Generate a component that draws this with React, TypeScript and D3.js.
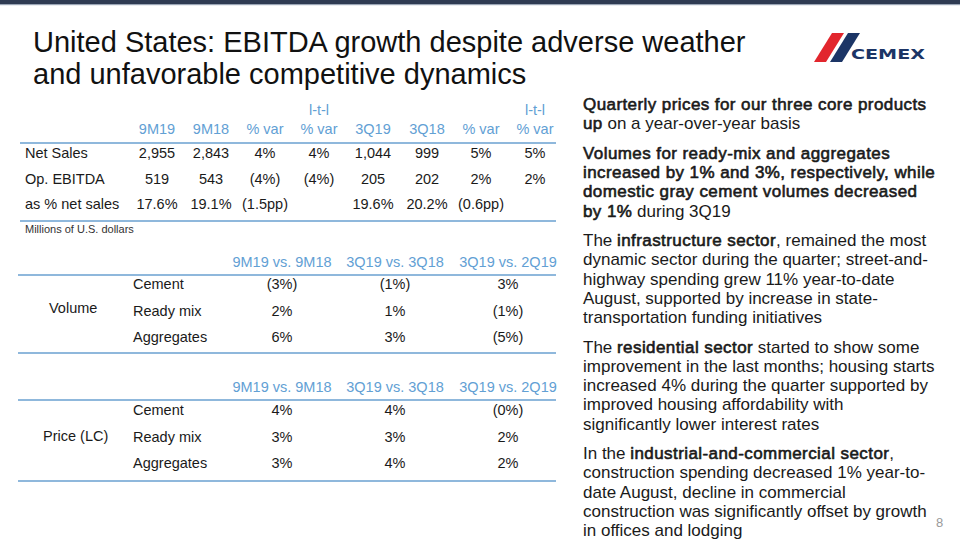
import React from "react";
import * as d3 from "d3";

// ---------- DATA ----------
const titleLines = [
  "United States: EBITDA growth despite adverse weather",
  "and unfavorable competitive dynamics",
];

const summaryTop = ["", "", "", "l-t-l", "", "", "", "l-t-l"];
const summaryCols = ["9M19", "9M18", "% var", "% var", "3Q19", "3Q18", "% var", "% var"];
const summaryRows = ["Net Sales", "Op. EBITDA", "as % net sales"];
const netSales = ["2,955", "2,843", "4%", "4%", "1,044", "999", "5%", "5%"];
const opEbitda = ["519", "543", "(4%)", "(4%)", "205", "202", "2%", "2%"];
const ebitdaMargin = ["17.6%", "19.1%", "(1.5pp)", "", "19.6%", "20.2%", "(0.6pp)", ""];
const summaryNote = "Millions of U.S. dollars";

const compareCols = ["9M19 vs. 9M18", "3Q19 vs. 3Q18", "3Q19 vs. 2Q19"];
const products = ["Cement", "Ready mix", "Aggregates"];
const volumeCement = ["(3%)", "(1%)", "3%"];
const volumeReadyMix = ["2%", "1%", "(1%)"];
const volumeAggregates = ["6%", "3%", "(5%)"];
const priceCement = ["4%", "4%", "(0%)"];
const priceReadyMix = ["3%", "3%", "2%"];
const priceAggregates = ["3%", "4%", "2%"];

type Seg = [string, boolean];
const paragraphs: Seg[][][] = [
  [
    [["Quarterly prices for our three core products", true]],
    [["up", true], [" on a year-over-year basis", false]],
  ],
  [
    [["Volumes for ready-mix and aggregates", true]],
    [["increased by 1% and 3%, respectively, while", true]],
    [["domestic gray cement volumes decreased", true]],
    [["by 1%", true], [" during 3Q19", false]],
  ],
  [
    [["The ", false], ["infrastructure sector", true], [", remained the most", false]],
    [["dynamic sector during the quarter; street-and-", false]],
    [["highway spending grew 11% year-to-date", false]],
    [["August, supported by increase in state-", false]],
    [["transportation funding initiatives", false]],
  ],
  [
    [["The ", false], ["residential sector", true], [" started to show some", false]],
    [["improvement in the last months; housing starts", false]],
    [["increased 4% during the quarter supported by", false]],
    [["improved housing affordability with", false]],
    [["significantly lower interest rates", false]],
  ],
  [
    [["In the ", false], ["industrial-and-commercial sector", true], [",", false]],
    [["construction spending decreased 1% year-to-", false]],
    [["date August, decline in commercial", false]],
    [["construction was significantly offset by growth", false]],
    [["in offices and lodging", false]],
  ],
];

// ---------- STYLE ----------
const FONT = "'Liberation Sans', Arial, sans-serif";
const BLUE_TEXT = "#62a0d4";
const BLUE_LINE = "#8fb8dc";
const DARK = "#1a1a1a";

export default function App() {
  const W = 960;
  const H = 540;

  // Summary table scales
  const sx = d3.scalePoint<number>().domain(d3.range(summaryCols.length)).range([157, 535]);
  const sy = d3.scalePoint<number>().domain(d3.range(summaryRows.length)).range([158, 209]);
  const summaryData = [netSales, opEbitda, ebitdaMargin];

  // Compare table scales
  const cx = d3.scalePoint<number>().domain(d3.range(compareCols.length)).range([282, 508]);
  const volY = d3.scalePoint<number>().domain(d3.range(products.length)).range([289, 342]);
  const priY = d3.scalePoint<number>().domain(d3.range(products.length)).range([415, 468]);
  const volumeData = [volumeCement, volumeReadyMix, volumeAggregates];
  const priceData = [priceCement, priceReadyMix, priceAggregates];

  // Right text layout
  const lineH = 19.2;
  const paraGap = 10.5;
  const lines: { y: number; segs: Seg[] }[] = [];
  let y = 110;
  paragraphs.forEach((p, pi) => {
    if (pi > 0) y += paraGap;
    p.forEach((l) => {
      lines.push({ y, segs: l });
      y += lineH;
    });
  });

  const compareTable = (
    title: string,
    titleX: number,
    titleY: number,
    headerY: number,
    lineTop: number,
    lineBottom: number,
    rowY: d3.ScalePoint<number>,
    data: string[][],
    key: string
  ) => (
    <g key={key}>
      {compareCols.map((c, i) => (
        <text key={c} x={cx(i)} y={headerY} textAnchor="middle" fill={BLUE_TEXT} fontSize={14.5}>
          {c}
        </text>
      ))}
      <line x1={18} x2={556} y1={lineTop} y2={lineTop} stroke={BLUE_LINE} strokeWidth={2} />
      <text x={titleX} y={titleY} fill={DARK} fontSize={14.5}>
        {title}
      </text>
      {products.map((p, r) => (
        <g key={p}>
          <text x={133} y={rowY(r)} fill={DARK} fontSize={14.5}>
            {p}
          </text>
          {data[r].map((v, i) => (
            <text key={i} x={cx(i)} y={rowY(r)} textAnchor="middle" fill={DARK} fontSize={14.5}>
              {v}
            </text>
          ))}
        </g>
      ))}
      <line x1={18} x2={556} y1={lineBottom} y2={lineBottom} stroke={BLUE_LINE} strokeWidth={2} />
    </g>
  );

  return (
    <svg
      width={W}
      height={H}
      viewBox={`0 0 ${W} ${H}`}
      style={{ position: "absolute", left: 0, top: 0, background: "#fff" }}
      fontFamily={FONT}
    >
      <rect x={0} y={0} width={W} height={H} fill="#fff" />
      {/* top bar */}
      <rect x={0} y={0} width={W} height={4} fill="#2f3b52" />
      <rect x={0} y={4} width={W} height={1.2} fill="#9aa5b5" />

      {/* title */}
      {titleLines.map((t, i) => (
        <text key={i} x={33} y={52 + i * 32} fontSize={29} fill="#111">
          {t}
        </text>
      ))}

      {/* logo */}
      <g>
        <polygon points="832,33 844,33 826,62 814,62" fill="#e2262d" />
        <polygon points="848,33 860,33 842,62 830,62" fill="#1c3566" />
        <text
          x={851}
          y={59}
          fontFamily="'DejaVu Sans', sans-serif"
          fontWeight="bold"
          fontSize={14.5}
          fill="#1c3566"
          textLength={74}
          lengthAdjust="spacingAndGlyphs"
        >
          CEMEX
        </text>
      </g>

      {/* summary table */}
      {summaryCols.map((c, i) => (
        <g key={i}>
          {summaryTop[i] && (
            <text x={sx(i)} y={115} textAnchor="middle" fill={BLUE_TEXT} fontSize={14.5}>
              {summaryTop[i]}
            </text>
          )}
          <text x={sx(i)} y={134} textAnchor="middle" fill={BLUE_TEXT} fontSize={14.5}>
            {c}
          </text>
        </g>
      ))}
      <line x1={20} x2={556} y1={143} y2={143} stroke={BLUE_LINE} strokeWidth={2} />
      {summaryRows.map((r, ri) => (
        <g key={r}>
          <text x={25} y={sy(ri)} fill={DARK} fontSize={14.5}>
            {r}
          </text>
          {summaryData[ri].map((v, i) => (
            <text key={i} x={sx(i)} y={sy(ri)} textAnchor="middle" fill={DARK} fontSize={14.5}>
              {v}
            </text>
          ))}
        </g>
      ))}
      <line x1={20} x2={556} y1={221} y2={221} stroke={BLUE_LINE} strokeWidth={2} />
      <text x={25} y={233} fontSize={11} fill="#333">
        {summaryNote}
      </text>

      {compareTable("Volume", 49, 313, 267, 275, 353, volY, volumeData, "vol")}
      {compareTable("Price (LC)", 43, 441, 392, 400, 481, priY, priceData, "pri")}

      {/* right text */}
      {lines.map((l, i) => (
        <text key={i} x={583} y={l.y} fontSize={17} fill={DARK}>
          {l.segs.map(([t, b], j) => (
            <tspan
              key={j}
              stroke={b ? DARK : "none"}
              strokeWidth={b ? 0.6 : 0}
              strokeLinejoin="round"
              letterSpacing={b ? 0.42 : 0}
            >
              {t}
            </tspan>
          ))}
        </text>
      ))}

      {/* page number */}
      <text x={936} y={527} fontSize={13} fill="#9a9a9a">
        8
      </text>
    </svg>
  );
}
